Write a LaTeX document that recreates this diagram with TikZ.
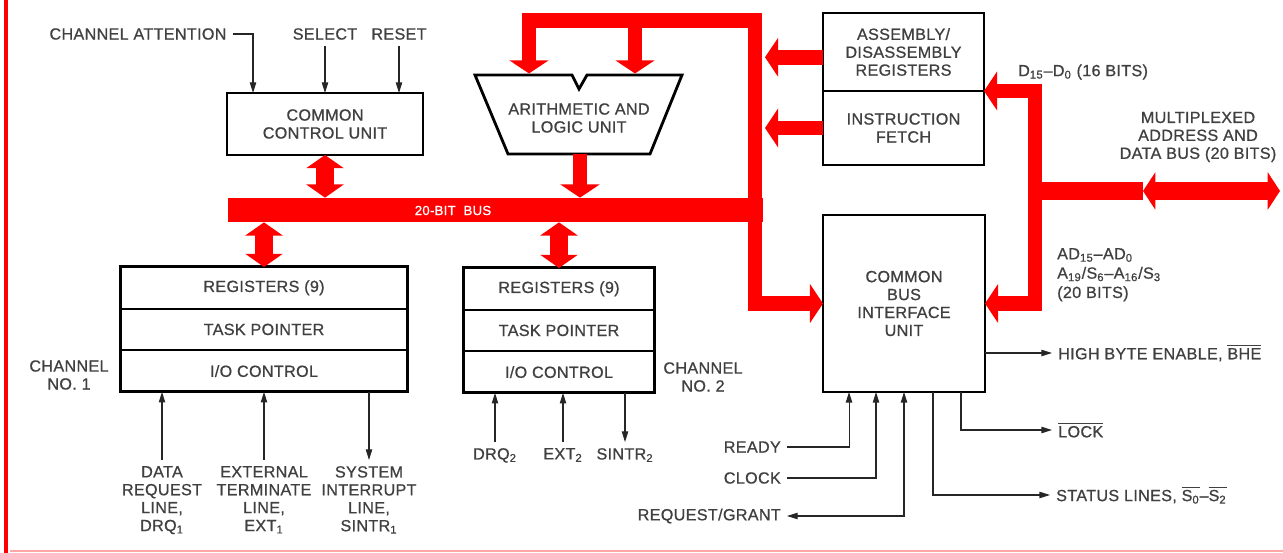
\documentclass[tikz,border=0pt]{standalone}
\usepackage{fontspec}
\setmainfont{Liberation Sans}[FakeBold=0.8, LetterSpace=2]
\usetikzlibrary{arrows.meta,positioning}

\begin{document}
\begin{tikzpicture}[x=0.02cm, y=-0.02cm,
    every node/.style={font=\fontsize{9.2}{10.2}\selectfont, text=black!75, align=center},
    unitbox/.style={draw=black, line width=1.6pt, fill=white, inner sep=0pt, outer sep=0pt},
    chanrow/.style={draw=black, line width=1.1pt, inner sep=0pt, outer sep=0pt, minimum height=0.833cm},
    chanframe/.style={draw=black, line width=1.7pt},
    redbus/.style={red, line width=8.5pt, line join=miter},
    redarrow/.style={redbus, -{Triangle[width=22pt,length=7.5pt]}},
    dblarrow/.style={red, line width=10pt, {Triangle[width=21pt,length=7.5pt]}-{Triangle[width=21pt,length=7.5pt]}},
    sig/.style={black!85, line width=0.6pt, -{Triangle[width=3.6pt,length=6pt]}},
    sigboth/.style={sig, {Triangle[width=3.6pt,length=6pt]}-{Triangle[width=3.6pt,length=6pt]}}
]
    \useasboundingbox (0,0) rectangle (1283,553);

    % page edges
    \draw[red, line width=2.8pt] (6,0) -- (6,553);
    \draw[red!35, line width=1.7pt] (10,551) -- (1283,551);

    % Common control unit and its inputs
    \node[unitbox, minimum width=3.92cm, minimum height=1.24cm] (ccu) at (325,124) {COMMON\\CONTROL UNIT};
    \node (chatt) at (138,34) {CHANNEL ATTENTION};
    \node (sel) at (325,34) {SELECT};
    \node (rst) at (399,34) {RESET};
    \draw[sig] (chatt.east) -| ([xshift=0.52cm]ccu.north west);
    \draw[sig] (sel.south) -- (sel.south |- ccu.north);
    \draw[sig] (rst.south) -- (rst.south |- ccu.north);

    % ALU (trapezoid with notch)
    \draw[line width=1.6pt, fill=white, line join=miter] (475,75) -- (572,75) -- (579,89) -- (587,75) -- (682,75) -- (650,154) -- (508,154) -- cycle;
    \node (alu) at (579,118) {ARITHMETIC AND\\LOGIC UNIT};
    \coordinate (aluinA) at (529,73.5);
    \coordinate (aluinB) at (635,73.5);
    \coordinate (aluout) at (580,154);

    % 20-bit bus
    \node[fill=red, minimum width=10.7cm, minimum height=0.48cm, inner sep=0pt] (bus) at (495.5,210) {};
    \node[text=white, font=\fontsize{7.5}{8}\selectfont] (buslbl) at (453,210.5) {20-BIT\hspace{0.6em}BUS};

    % Assembly registers, instruction fetch, bus interface
    \node[unitbox, minimum width=3.22cm, minimum height=1.56cm] (asm) at (903.5,52) {ASSEMBLY/\\DISASSEMBLY\\REGISTERS};
    \node[unitbox, minimum width=3.22cm, minimum height=1.48cm, below=0pt of asm] (fetch) {INSTRUCTION\\FETCH};
    \node[unitbox, minimum width=3.24cm, minimum height=3.54cm] (cbiu) at (904,303.5) {COMMON\\BUS\\INTERFACE\\UNIT};

    % Channel 1
    \node[chanrow, minimum width=5.76cm] (reg1) at (264,287.8) {REGISTERS (9)};
    \node[chanrow, minimum width=5.76cm, below=0pt of reg1] (task1) {TASK POINTER};
    \node[chanrow, minimum width=5.76cm, below=0pt of task1] (io1) {I/O CONTROL};
    \draw[chanframe] (reg1.north west) rectangle (io1.south east);
    \node (ch1lbl) at (69,375) {CHANNEL\\NO. 1};

    % Channel 2
    \node[chanrow, minimum width=3.84cm] (reg2) at (559,288.8) {REGISTERS (9)};
    \node[chanrow, minimum width=3.84cm, below=0pt of reg2] (task2) {TASK POINTER};
    \node[chanrow, minimum width=3.84cm, below=0pt of task2] (io2) {I/O CONTROL};
    \draw[chanframe] (reg2.north west) rectangle (io2.south east);
    \node (ch2lbl) at (703,377) {CHANNEL\\NO. 2};

    % red internal paths
    \coordinate (tr) at (755,20.5);
    \coordinate (vbar) at (765,0);
    \draw[redarrow, line cap=rect] (tr) -| (aluinA);
    \draw[redarrow] (tr -| aluinB) -- (aluinB);
    \draw[redarrow, line cap=rect] (tr) |- (cbiu.west);
    \draw[redarrow] (aluout) -- (aluout |- bus.north);
    \draw[redarrow] ([yshift=-3pt]asm.west) -- ([yshift=-3pt]asm.west -| vbar);
    \draw[redarrow] (fetch.west) -- (fetch.west -| vbar);
    \draw[dblarrow] (ccu.south) -- (ccu.south |- bus.north);
    \draw[dblarrow] (reg1.north) -- (reg1.north |- bus.south);
    \draw[dblarrow] (reg2.north) -- (reg2.north |- bus.south);

    % multiplexed address/data bus
    \coordinate (mux) at (1035,191);
    \coordinate (muxfin) at (1143,191);
    \coordinate (muxend) at (1280,191);
    \draw[redarrow] (mux) |- (asm.south east);
    \draw[redarrow] (mux) |- (cbiu.east);
    \draw[red, line width=10pt] (mux) -- (muxfin);
    \draw[red, line width=10pt, {Triangle[width=21pt,length=7pt]}-{Triangle[width=21pt,length=7pt]}] (muxfin) -- (muxend);
    \node[anchor=west] (dlbl) at (1012,72) {D\textsubscript{15}--D\textsubscript{0} (16 BITS)};
    \node (muxlbl) at (1198,137) {MULTIPLEXED\\ADDRESS AND\\DATA BUS (20 BITS)};
    \node[anchor=north west, align=left, font=\fontsize{9.2}{11}\selectfont] (adlbl) at (1051,242) {AD\textsubscript{15}--AD\textsubscript{0}\\A\textsubscript{19}/S\textsubscript{6}--A\textsubscript{16}/S\textsubscript{3}\\(20 BITS)};

    % Channel lines
    \node[anchor=north] (drq1) at (162,460) {DATA\\REQUEST\\LINE,\\DRQ\textsubscript{1}};
    \node[anchor=north] (ext1) at (264,460) {EXTERNAL\\TERMINATE\\LINE,\\EXT\textsubscript{1}};
    \node[anchor=north] (sintr1) at (369,460) {SYSTEM\\INTERRUPT\\LINE,\\SINTR\textsubscript{1}};
    \draw[sig] (drq1.north) -- (drq1.north |- io1.south);
    \draw[sig] (ext1.north) -- (ext1.north |- io1.south);
    \draw[sig] (io1.south -| sintr1.north) -- (sintr1.north);
    \node[anchor=north] (drq2) at (495,442) {DRQ\textsubscript{2}};
    \node[anchor=north] (ext2) at (563,442) {EXT\textsubscript{2}};
    \node[anchor=north] (sintr2) at (625,442) {SINTR\textsubscript{2}};
    \draw[sig] (drq2.north) -- (drq2.north |- io2.south);
    \draw[sig] (ext2.north) -- (ext2.north |- io2.south);
    \draw[sig] (io2.south -| sintr2.north) -- (sintr2.north);

    % Bus interface lines
    \node[anchor=east] (ready) at (787,447) {READY};
    \node[anchor=east] (clock) at (787,478) {CLOCK};
    \node[anchor=east] (reqg) at (787,516) {REQUEST/GRANT};
    \draw[sig] (ready.east) -| ([xshift=0.52cm]cbiu.south west);
    \draw[sig] (clock.east) -| ([xshift=1.06cm]cbiu.south west);
    \draw[sigboth] (reqg.east) -| (cbiu.south);
    \node[anchor=west] (bhe) at (1052,353) {HIGH BYTE ENABLE, $\overline{\mbox{BHE}}$};
    \node[anchor=west] (lock) at (1052,430) {$\overline{\mbox{LOCK}}$};
    \node[anchor=west] (stat) at (1050,495) {STATUS LINES, $\overline{\mbox{S\textsubscript{0}}}$--$\overline{\mbox{S\textsubscript{2}}}$};
    \draw[sig] (cbiu.east |- bhe.west) -- (bhe.west);
    \draw[sig] ([xshift=2.76cm]cbiu.south west) |- (lock.west);
    \draw[sig] ([xshift=2.2cm]cbiu.south west) |- (stat.west);

\end{tikzpicture}
\end{document}
